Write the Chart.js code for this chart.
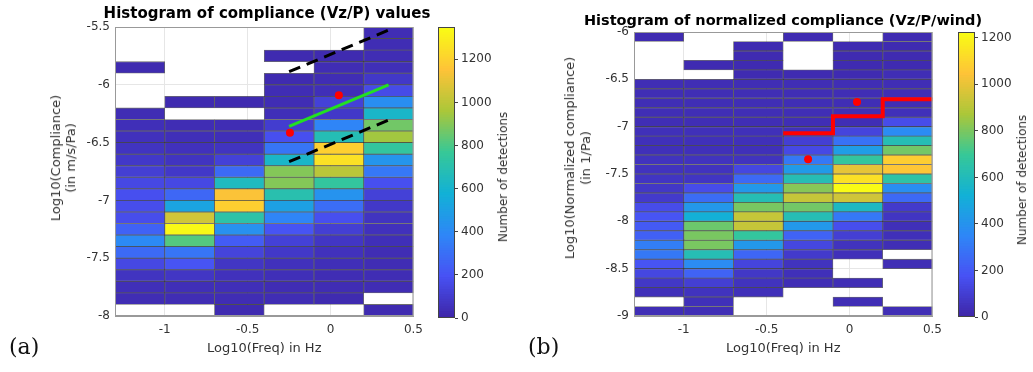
<!DOCTYPE html>
<html>
<head>
<meta charset="utf-8">
<script src="https://cdn.jsdelivr.net/npm/chart.js@4.4.1/dist/chart.umd.min.js"></script>
<style>
  body { margin: 0; background: #fff; width: 1033px; height: 372px; position: relative; overflow: hidden; font-family: "DejaVu Sans"; }
  canvas { position: absolute; top: 0; }
  .rot { position: absolute; color: #333; white-space: nowrap; text-align: center; transform: translate(-50%, -50%) rotate(-90deg); }
  .ttl { position: absolute; white-space: nowrap; font-weight: bold; font-size: 15px; color: #000; transform: translate(-50%, -50%); }
  .pan { position: absolute; font-family: "DejaVu Serif"; font-size: 22px; color: #111; }
</style>
</head>
<body>
<canvas id="heatA" width="430" height="372" style="left:0px"></canvas>
<canvas id="barA" width="90" height="372" style="left:430px"></canvas>
<canvas id="heatB" width="429" height="372" style="left:520px"></canvas>
<canvas id="barB" width="83" height="372" style="left:950px"></canvas>

<div class="ttl" style="left:267px;top:13px">Histogram of compliance (Vz/P) values</div>
<div class="ttl" style="left:783px;top:20px;font-size:14.5px">Histogram of normalized compliance (Vz/P/wind)</div>
<div class="rot" style="left:63px;top:158px;font-size:13px;line-height:15px">Log10(Compliance)<br>(in m/s/Pa)</div>
<div class="rot" style="left:578px;top:158px;font-size:13px;line-height:16px">Log10(Normalized compliance)<br>(in 1/Pa)</div>
<div class="rot" style="left:503px;top:177px;font-size:12px">Number of detections</div>
<div class="rot" style="left:1022px;top:180px;font-size:12px">Number of detections</div>
<div class="pan" style="left:9px;top:334px">(a)</div>
<div class="pan" style="left:528px;top:334px">(b)</div>

<script>
// frequency bins (log10 Hz), 0.3 wide
const freqCenters = [-1.15, -0.85, -0.55, -0.25, 0.05, 0.35];
const rowStep = 0.1;

// (a) compliance, rows from -5.5 going down to -8
const compTop = -5.5;
const compCounts = [
  [0, 0, 0, 20, 0, 0, 0, 30, 40, 50, 60, 80, 110, 150, 180, 170, 170, 250, 400, 280, 150, 60, 40, 30, 0],
  [0, 0, 0, 0, 0, 0, 20, 0, 30, 40, 50, 60, 80, 150, 270, 520, 1050, 1340, 820, 320, 200, 70, 40, 30, 0],
  [0, 0, 0, 0, 0, 0, 20, 0, 30, 40, 60, 120, 280, 650, 1150, 1200, 720, 430, 230, 130, 70, 50, 40, 30, 20],
  [0, 0, 20, 0, 20, 30, 30, 40, 100, 180, 320, 620, 900, 900, 700, 500, 380, 200, 120, 80, 50, 40, 30, 30, 0],
  [0, 0, 20, 30, 30, 40, 120, 80, 380, 680, 1200, 1260, 1000, 750, 440, 290, 180, 110, 70, 50, 40, 30, 30, 20, 0],
  [30, 30, 30, 40, 80, 160, 420, 620, 870, 950, 750, 450, 330, 180, 120, 80, 60, 50, 40, 30, 30, 30, 30, 0, 20]
];
const compMax = 1350;

// (b) normalized compliance, rows from -6 going down to -9
const normTop = -6;
const normCounts = [
  [20, 0, 0, 0, 0, 30, 30, 30, 30, 30, 40, 40, 40, 50, 50, 60, 70, 80, 150, 180, 200, 220, 320, 300, 180, 130, 70, 40, 0, 30],
  [0, 0, 0, 20, 0, 30, 30, 30, 30, 30, 40, 40, 40, 50, 50, 60, 150, 260, 420, 520, 780, 800, 800, 620, 370, 230, 100, 50, 40, 30],
  [0, 20, 20, 20, 20, 30, 30, 30, 30, 30, 40, 40, 40, 50, 130, 250, 420, 620, 800, 930, 930, 680, 420, 240, 120, 70, 50, 40, 0, 0],
  [20, 0, 0, 0, 20, 30, 30, 30, 30, 30, 40, 100, 140, 300, 430, 620, 820, 930, 790, 620, 420, 230, 130, 80, 50, 40, 30, 0, 0, 0],
  [0, 20, 20, 20, 20, 30, 30, 30, 30, 30, 120, 280, 440, 680, 1000, 1140, 1225, 950, 580, 300, 160, 100, 50, 40, 0, 0, 30, 0, 30, 0],
  [20, 20, 20, 20, 30, 30, 30, 30, 40, 150, 370, 620, 790, 1080, 1060, 660, 380, 250, 80, 60, 40, 40, 30, 0, 30, 0, 0, 0, 0, 30]
];
const normMax = 1225;

// overlays
const fitLine = [{ x: -0.25, y: -6.36 }, { x: 0.35, y: -6.0 }];
const upperDash = [{ x: -0.25, y: -5.887 }, { x: 0.35, y: -5.527 }];
const lowerDash = [{ x: -0.25, y: -6.665 }, { x: 0.35, y: -6.305 }];
const compDots = [{ x: -0.245, y: -6.414 }, { x: 0.05, y: -6.09 }];
const normStep = [{ x: -0.4, y: -7.07 }, { x: -0.1, y: -6.89 }, { x: 0.2, y: -6.71 }, { x: 0.5, y: -6.71 }];
const normDots = [{ x: -0.25, y: -7.345 }, { x: 0.045, y: -6.74 }];

const cbTicks = [0, 200, 400, 600, 800, 1000, 1200];

// parula(8)
const parula = [[62, 38, 168], [72, 82, 244], [46, 135, 247], [18, 177, 214], [55, 200, 151], [171, 199, 57], [254, 195, 56], [249, 251, 21]];
function cmap(t) {
  t = Math.max(0, Math.min(1, t));
  const s = t * 7;
  const i = Math.min(6, Math.floor(s));
  const f = s - i;
  const a = parula[i], b = parula[i + 1];
  return "rgb(" + a.map((v, j) => Math.round(v + (b[j] - v) * f)).join(",") + ")";
}

const plainNum = (v) => String(Math.round(v * 10) / 10);

Chart.defaults.font.family = "DejaVu Sans";
Chart.defaults.color = "#333";
Chart.defaults.animation = false;

const boxPlugin = {
  id: "box",
  afterDraw(chart) {
    const { ctx, chartArea: a } = chart;
    ctx.save();
    ctx.strokeStyle = chart.options.boxColor || "#999";
    ctx.lineWidth = 1;
    ctx.strokeRect(a.left + 0.5, a.top + 0.5, a.right - a.left - 1, a.bottom - a.top - 1);
    ctx.restore();
  }
};

function cellSets(counts, top, max) {
  return counts.map((col, c) => {
    const pts = [], colors = [];
    col.forEach((n, k) => {
      if (!n) return;
      const hi = top - k * rowStep;
      pts.push({ x: freqCenters[c], y: [hi - rowStep, hi] });
      colors.push(cmap(n / max));
    });
    return {
      type: "bar", data: pts, backgroundColor: colors,
      borderColor: "rgba(30,30,30,0.65)", borderWidth: 0.8, borderSkipped: false,
      barPercentage: 1, categoryPercentage: 1, grouped: false, order: 2
    };
  });
}

function heatmap(id, sets, yMin, yMax, top, yWidth) {
  new Chart(document.getElementById(id), {
    type: "bar",
    data: { datasets: sets },
    options: {
      responsive: false,
      layout: { padding: { left: 0, right: 10, top: top, bottom: 12 } },
      plugins: { legend: { display: false }, tooltip: { enabled: false } },
      scales: {
        x: {
          type: "linear", min: -1.3, max: 0.5, offset: false,
          ticks: { stepSize: 0.5, includeBounds: false, padding: 7, font: { size: 12 }, maxRotation: 0, callback: plainNum },
          grid: { color: "#e6e6e6", offset: false, drawTicks: false },
          border: { color: "#999" },
          title: { display: true, text: "Log10(Freq) in Hz", font: { size: 13 }, padding: { top: 0, bottom: 4 } },
          afterFit: (s) => { s.height = 44; }
        },
        y: {
          type: "linear", min: yMin, max: yMax,
          ticks: { stepSize: 0.5, includeBounds: false, padding: 5, font: { size: 12 }, callback: plainNum },
          grid: { color: "#e6e6e6", drawTicks: false },
          border: { color: "#999" },
          afterFit: (s) => { s.width = yWidth; }
        }
      }
    },
    plugins: [boxPlugin]
  });
}

function colorbar(id, max, top, bottom, axisW) {
  const segs = 120, pts = [], colors = [];
  for (let i = 0; i < segs; i++) {
    const lo = (i / segs) * max;
    pts.push({ x: 0.5, y: [lo, lo + (max / segs) * 1.4] });
    colors.push(cmap(i / (segs - 1)));
  }
  new Chart(document.getElementById(id), {
    type: "bar",
    data: { datasets: [{ data: pts, backgroundColor: colors, borderWidth: 0, barPercentage: 1, categoryPercentage: 1, grouped: false }] },
    options: {
      responsive: false,
      boxColor: "#444",
      layout: { padding: { left: 8, right: 0, top: top, bottom: bottom } },
      plugins: { legend: { display: false }, tooltip: { enabled: false } },
      scales: {
        x: { type: "linear", min: 0, max: 1, display: false, offset: false, afterBuildTicks: (s) => { s.ticks = []; } },
        y: {
          position: "right", min: 0, max: max,
          afterBuildTicks: (s) => { s.ticks = cbTicks.map((v) => ({ value: v })); },
          ticks: { padding: 3, font: { size: 12 }, callback: plainNum },
          grid: { drawOnChartArea: false, tickLength: 3, color: "#444" },
          border: { display: false },
          afterFit: (s) => { s.width = axisW; }
        }
      }
    },
    plugins: [boxPlugin]
  });
}

const setsA = cellSets(compCounts, compTop, compMax).concat([
  { type: "line", data: upperDash, borderColor: "#000", borderWidth: 3, borderDash: [12, 7], pointRadius: 0, order: 0 },
  { type: "line", data: lowerDash, borderColor: "#000", borderWidth: 3, borderDash: [12, 7], pointRadius: 0, order: 0 },
  { type: "line", data: fitLine, borderColor: "#22e022", borderWidth: 3, pointRadius: 0, order: 0 },
  { type: "line", data: compDots, showLine: false, pointRadius: 4, pointBackgroundColor: "#f00", pointBorderWidth: 0, order: 0 }
]);
const setsB = cellSets(normCounts, normTop, normMax).concat([
  { type: "line", data: normStep, stepped: "before", borderColor: "#f00", borderWidth: 4, pointRadius: 0, order: 0 },
  { type: "line", data: normDots, showLine: false, pointRadius: 4, pointBackgroundColor: "#f00", pointBorderWidth: 0, order: 0 }
]);

heatmap("heatA", setsA, -8, -5.5, 27, 115);
heatmap("heatB", setsB, -9, -6, 32, 114);
colorbar("barA", compMax, 27, 54, 65);
colorbar("barB", normMax, 32, 55, 58);
</script>
</body>
</html>
